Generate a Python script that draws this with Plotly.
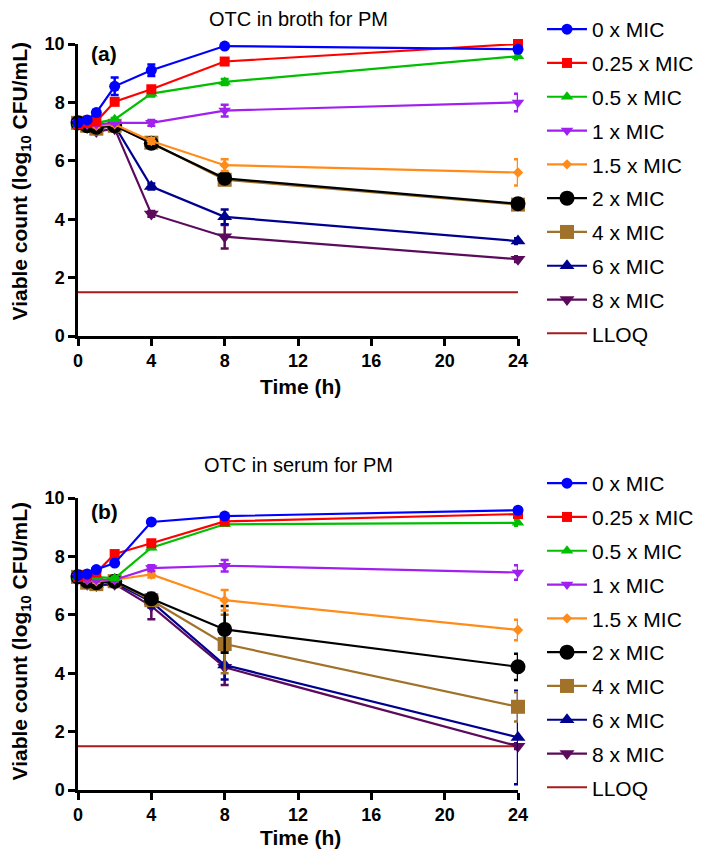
import plotly.graph_objects as go

W, H = 709, 863
OFF = 8  # page body margin in the browser

times = [0, 0.5, 1, 2, 4, 8, 24]
series_names = ["0 x MIC", "0.25 x MIC", "0.5 x MIC", "1 x MIC", "1.5 x MIC",
                "2 x MIC", "4 x MIC", "6 x MIC", "8 x MIC"]
lloq_value = 1.5
x_ticks = [0, 4, 8, 12, 16, 20, 24]
y_ticks = [0, 2, 4, 6, 8, 10]

# Panel (a): broth
broth_0 = [7.30, 7.40, 7.65, 8.55, 9.10, 9.93, 9.82]
broth_025 = [7.25, 7.30, 7.35, 8.02, 8.45, 9.40, 10.00]
broth_05 = [7.30, 7.30, 7.30, 7.42, 8.30, 8.70, 9.58]
broth_1 = [7.30, 7.25, 7.25, 7.30, 7.30, 7.72, 8.00]
broth_15 = [7.30, 7.25, 7.20, 7.25, 6.68, 5.85, 5.60]
broth_2 = [7.30, 7.20, 7.15, 7.20, 6.60, 5.40, 4.53]
broth_4 = [7.30, 7.20, 7.10, 7.20, 6.62, 5.35, 4.50]
broth_6 = [7.30, 7.20, 7.10, 7.20, 5.12, 4.08, 3.25]
broth_8 = [7.25, 7.15, 7.00, 7.10, 4.18, 3.40, 2.63]

broth_0_err = [0.05, 0.10, 0.10, 0.30, 0.20, 0.05, 0.05]
broth_025_err = [0.05, 0.05, 0.05, 0.10, 0.10, 0.05, 0.05]
broth_05_err = [0.05, 0.05, 0.05, 0.05, 0.10, 0.10, 0.10]
broth_1_err = [0.05, 0.05, 0.05, 0.05, 0.10, 0.20, 0.30]
broth_15_err = [0.05, 0.05, 0.05, 0.05, 0.10, 0.20, 0.45]
broth_2_err = [0.05, 0.05, 0.05, 0.05, 0.10, 0.10, 0.10]
broth_4_err = [0.05, 0.05, 0.05, 0.05, 0.10, 0.10, 0.10]
broth_6_err = [0.05, 0.05, 0.05, 0.05, 0.10, 0.25, 0.10]
broth_8_err = [0.05, 0.05, 0.05, 0.05, 0.10, 0.40, 0.10]

# Panel (b): serum
serum_0 = [7.35, 7.40, 7.55, 7.77, 9.18, 9.38, 9.58]
serum_025 = [7.30, 7.35, 7.45, 8.08, 8.45, 9.20, 9.45]
serum_05 = [7.30, 7.30, 7.30, 7.25, 8.30, 9.10, 9.15]
serum_1 = [7.30, 7.20, 7.20, 7.20, 7.60, 7.68, 7.45]
serum_15 = [7.30, 7.20, 7.15, 7.20, 7.38, 6.50, 5.48]
serum_2 = [7.30, 7.15, 7.10, 7.15, 6.55, 5.50, 4.22]
serum_4 = [7.30, 7.10, 7.05, 7.15, 6.50, 5.00, 2.85]
serum_6 = [7.30, 7.10, 7.05, 7.10, 6.45, 4.28, 1.80]
serum_8 = [7.25, 7.05, 7.00, 7.05, 6.30, 4.20, 1.50]

serum_0_err = [0.05, 0.05, 0.05, 0.05, 0.05, 0.05, 0.05]
serum_025_err = [0.05, 0.05, 0.05, 0.10, 0.10, 0.05, 0.05]
serum_05_err = [0.05, 0.05, 0.05, 0.05, 0.05, 0.05, 0.10]
serum_1_err = [0.05, 0.05, 0.05, 0.05, 0.10, 0.20, 0.25]
serum_15_err = [0.05, 0.05, 0.05, 0.05, 0.10, 0.35, 0.35]
serum_2_err = [0.05, 0.05, 0.05, 0.05, 0.15, 0.80, 0.45]
serum_4_err = [0.05, 0.05, 0.05, 0.05, 0.15, 1.00, 0.50]
serum_6_err = [0.05, 0.05, 0.05, 0.05, 0.20, 0.50, 1.60]
serum_8_err = [0.05, 0.05, 0.05, 0.05, 0.45, 0.60, 0.10]

broth = [broth_0, broth_025, broth_05, broth_1, broth_15, broth_2, broth_4, broth_6, broth_8]
broth_err = [broth_0_err, broth_025_err, broth_05_err, broth_1_err, broth_15_err,
             broth_2_err, broth_4_err, broth_6_err, broth_8_err]
serum = [serum_0, serum_025, serum_05, serum_1, serum_15, serum_2, serum_4, serum_6, serum_8]
serum_err = [serum_0_err, serum_025_err, serum_05_err, serum_1_err, serum_15_err,
             serum_2_err, serum_4_err, serum_6_err, serum_8_err]

colors = ["#0000FF", "#FF0000", "#00BF00", "#A020F0", "#FF8C1A",
          "#000000", "#A0722A", "#000090", "#5C0B5C"]
symbols = ["circle", "square", "triangle-up", "triangle-down", "diamond",
           "circle", "square", "triangle-up", "triangle-down"]
sizes = [11, 10, 11, 11, 8, 15, 14, 13, 13]
lloq_color = "#A51C1C"

FONT = "Liberation Sans, Arial, sans-serif"

fig = go.Figure()


def px_x(p):
    return (p - OFF) / W


def px_y(p):
    return 1 - (p - OFF) / H


panels = [
    dict(data=broth, err=broth_err, xa="x", ya="y", legend="legend"),
    dict(data=serum, err=serum_err, xa="x2", ya="y2", legend="legend2"),
]

for pnl in panels:
    fig.add_trace(go.Scatter(
        x=[times[0], times[-1]], y=[lloq_value, lloq_value], mode="lines",
        name="LLOQ", line=dict(color=lloq_color, width=2),
        xaxis=pnl["xa"], yaxis=pnl["ya"], legend=pnl["legend"],
        legendrank=10, legendgroup=pnl["legend"] + "LLOQ", hoverinfo="skip"))
    for i in reversed(range(len(series_names))):
        fig.add_trace(go.Scatter(
            x=times, y=pnl["data"][i], mode="lines+markers", name=series_names[i],
            line=dict(color=colors[i], width=2.2),
            marker=dict(color=colors[i], symbol=symbols[i], size=sizes[i],
                        line=dict(width=0)),
            error_y=dict(type="data", array=pnl["err"][i], color=colors[i],
                         thickness=2.5, width=4),
            xaxis=pnl["xa"], yaxis=pnl["ya"], legend=pnl["legend"],
            legendrank=i + 1, legendgroup=pnl["legend"] + series_names[i],
            cliponaxis=False))

axis_common = dict(showline=True, linecolor="black", linewidth=2.5, ticks="outside",
                   ticklen=7, tickwidth=2.5, tickcolor="black", showgrid=False,
                   zeroline=False, mirror=False, automargin=False,
                   tickfont=dict(family=FONT, size=18, color="black", weight="bold"))

xdom = [px_x(78), px_x(518)]
legend_common = dict(xanchor="left", yanchor="top",
                     font=dict(family=FONT, size=21, color="black"),
                     traceorder="grouped", tracegroupgap=3.5, itemwidth=40,
                     bgcolor="rgba(0,0,0,0)")
fig.update_layout(
    width=W, height=H, margin=dict(l=0, r=0, t=0, b=0, autoexpand=False),
    paper_bgcolor="white", plot_bgcolor="white", showlegend=True,
    font=dict(family=FONT, color="black"),
    xaxis=dict(domain=xdom, range=[0, 24], tickvals=x_ticks, anchor="y", **axis_common),
    yaxis=dict(domain=[px_y(336), px_y(44)], range=[0, 10], tickvals=y_ticks,
               anchor="x", **axis_common),
    xaxis2=dict(domain=xdom, range=[0, 24], tickvals=x_ticks, anchor="y2", **axis_common),
    yaxis2=dict(domain=[px_y(790), px_y(498)], range=[0, 10], tickvals=y_ticks,
                anchor="x2", **axis_common),
    legend=dict(x=px_x(542), y=px_y(9), **legend_common),
    legend2=dict(x=px_x(542), y=px_y(463), **legend_common),
)

ann = []
for title, ty, lab, ly, xt_y, yt_y in [("OTC in broth for PM", 19, "(a)", 53, 386, 182),
                                       ("OTC in serum for PM", 465, "(b)", 511, 837, 642)]:
    ann.append(dict(text=title, x=px_x(298), y=px_y(ty), xref="paper", yref="paper",
                    showarrow=False, xanchor="center", yanchor="middle",
                    font=dict(family=FONT, size=20, color="black")))
    ann.append(dict(text=lab, x=px_x(89), y=px_y(ly), xref="paper", yref="paper",
                    showarrow=False, xanchor="left", yanchor="middle",
                    font=dict(family=FONT, size=21, color="black", weight="bold")))
    ann.append(dict(text="Time (h)", x=px_x(300), y=px_y(xt_y), xref="paper", yref="paper",
                    showarrow=False, xanchor="center", yanchor="middle",
                    font=dict(family=FONT, size=21, color="black", weight="bold")))
    ann.append(dict(text="Viable count (log<sub>10</sub> CFU/mL)", x=px_x(20.5), y=px_y(yt_y),
                    xref="paper", yref="paper", textangle=-90,
                    showarrow=False, xanchor="center", yanchor="middle",
                    font=dict(family=FONT, size=21, color="black", weight="bold")))
fig.update_layout(annotations=ann)

fig.write_html("out.html")
